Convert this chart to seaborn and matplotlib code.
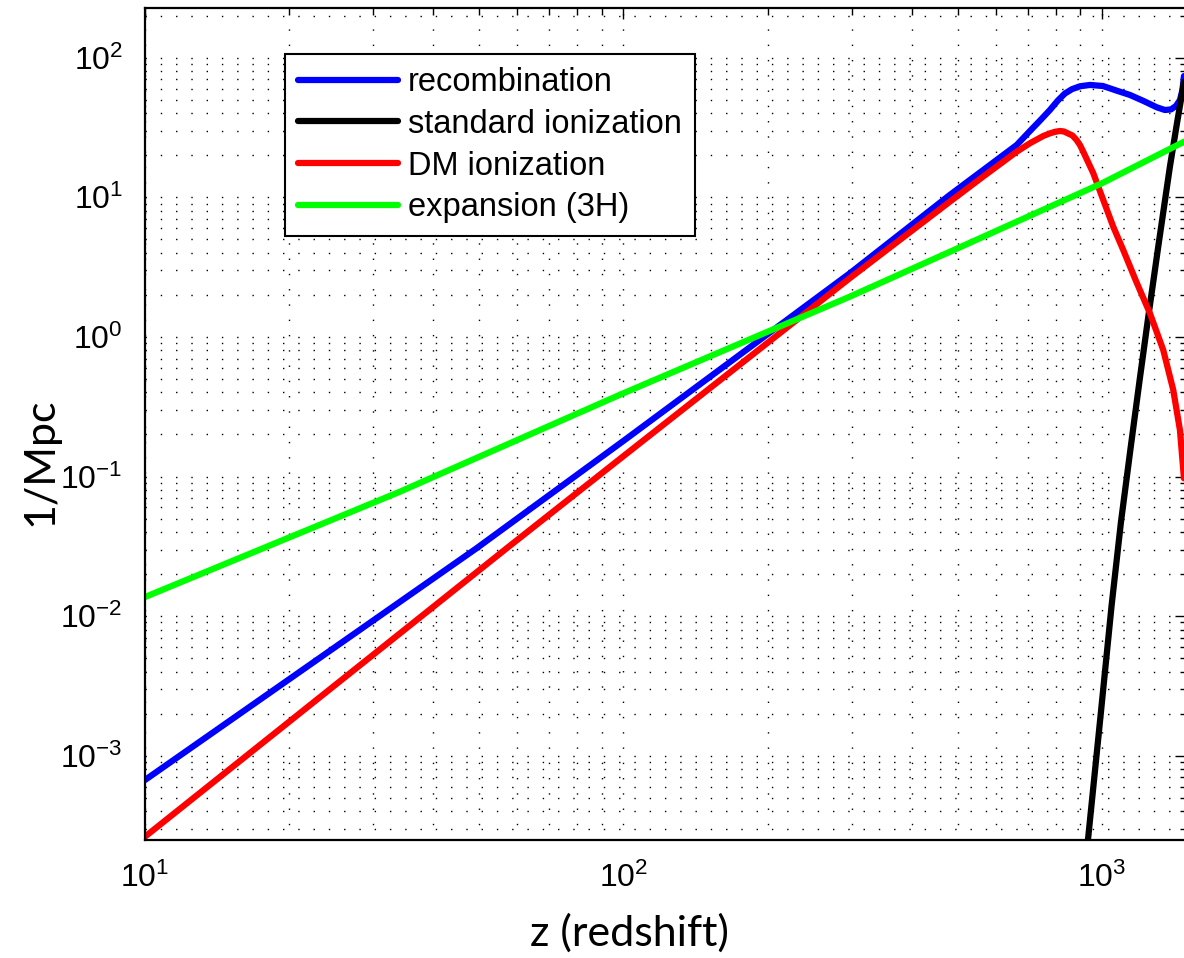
import matplotlib
matplotlib.use("Agg")
import matplotlib.pyplot as plt
import seaborn as sns
import pandas as pd
from matplotlib.ticker import LogLocator, LogFormatterSciNotation, NullFormatter

# ---- data (z = redshift, rates in 1/Mpc) ----
z_rec = [10, 49.3, 100, 297, 481, 565, 663.5, 707.2, 741.9, 778.4, 809.0,
         836.8, 865.6, 899.5, 943.9, 1004.8, 1074.8, 1144.1, 1218.1, 1302.6,
         1354, 1394, 1428, 1455.6, 1473.1, 1484]
rec = [6.7e-4, 0.0306, 0.18, 2.85, 10.4, 15.7, 23.7, 29.85, 35.4, 42.2, 49.4,
       55.4, 59.5, 62.4, 63.8, 62.7, 58.0, 54.1, 49.2, 44.1,
       42.2, 42.6, 45.1, 49.8, 58.7, 73.9]

z_ion = [917.6, 934.9, 995.2, 1047.8, 1095.8, 1150, 1200.5, 1250, 1315.5,
         1387, 1434, 1484]
ion = [1.29e-4, 2.49e-4, 2.06e-3, 0.0120, 0.0472, 0.168, 0.508, 1.40, 4.79,
       16.6, 33.5, 67.0]

z_dm = [10, 57, 100, 297, 481, 565, 663.5, 707.2, 754.1, 778.4, 797.6, 817.0,
        833.0, 867.8, 885.3, 899.5, 914.0, 959.0, 1006.3, 1055.8, 1107.9,
        1180.6, 1259.8, 1343, 1409.3, 1455.5, 1484]
dm = [2.63e-4, 0.0306, 0.14, 2.63, 9.3, 14.1, 21.2, 24.4, 27.5, 28.7, 29.45,
      29.85, 29.6, 27.7, 25.7, 23.7, 21.2, 14.9, 9.57, 6.16, 4.19,
      2.47, 1.476, 0.806, 0.417, 0.215, 0.097]

z_exp = [10, 34.1, 100, 297, 481, 1000, 1484]
exp3h = [0.0137, 0.0778, 0.395, 1.94, 4.07, 12.6, 25.0]

labels = ["recombination", "standard ionization", "DM ionization", "expansion (3H)"]
colors = ["#0000ff", "#000000", "#ff0000", "#00ff00"]

# ---- style ----
sns.set_style("white")
plt.rcParams['font.family'] = ['Liberation Sans', 'DejaVu Sans']
plt.rcParams['mathtext.fontset'] = 'custom'
plt.rcParams['mathtext.rm'] = 'Liberation Sans'
plt.rcParams['mathtext.it'] = 'Liberation Sans:italic'
plt.rcParams['mathtext.bf'] = 'Liberation Sans:bold'
plt.rcParams['mathtext.default'] = 'regular'
plt.rcParams['text.color'] = 'black'
plt.rcParams['axes.labelcolor'] = 'black'
plt.rcParams['xtick.color'] = 'black'
plt.rcParams['ytick.color'] = 'black'

W, H = 1184, 958
fig = plt.figure(figsize=(W / 100, H / 100), dpi=100)
ax = fig.add_axes([145 / W, 1 - 840 / H, 1041.2 / W, 832 / H])

series = [(z_rec, rec), (z_ion, ion), (z_dm, dm), (z_exp, exp3h)]
for (zz, vv), lab, col in zip(series, labels, colors):
    df = pd.DataFrame({"z": zz, "rate": vv})
    sns.lineplot(data=df, x="z", y="rate", ax=ax, color=col, linewidth=4.5,
                 label=lab, sort=False, estimator=None)

ax.set_xscale("log")
ax.set_yscale("log")
ax.set_xlim(10, 1500)
ax.set_ylim(2.49e-4, 227)

ax.xaxis.set_major_locator(LogLocator(base=10))
ax.yaxis.set_major_locator(LogLocator(base=10))
ax.xaxis.set_minor_locator(LogLocator(base=10, subs=range(2, 10)))
ax.yaxis.set_minor_locator(LogLocator(base=10, subs=range(2, 10)))
ax.xaxis.set_major_formatter(LogFormatterSciNotation())
ax.yaxis.set_major_formatter(LogFormatterSciNotation())
ax.xaxis.set_minor_formatter(NullFormatter())
ax.yaxis.set_minor_formatter(NullFormatter())

ax.grid(True, which="both", color="black", linestyle=(0, (1, 10)), linewidth=1.0)
ax.set_axisbelow(True)

ax.tick_params(which="both", direction="in", top=True, right=True, width=1.0,
               color="black", labelcolor="black")
ax.tick_params(which="major", length=8, labelsize=23, pad=16)
ax.tick_params(which="minor", length=4)
ax.tick_params(axis="y", which="major", pad=16)
for s in ax.spines.values():
    s.set_color("black")
    s.set_linewidth(1.6)

ax.set_xlabel("z (redshift)", fontsize=31, family=["Lato", "DejaVu Sans"],
              color="black")
ax.set_ylabel("1/Mpc", fontsize=31, family=["Lato", "DejaVu Sans"],
              color="black")
ax.xaxis.set_label_coords(0.465, -0.088)
ax.yaxis.set_label_coords(-0.082, 0.455)

leg = ax.legend(loc="upper left", bbox_to_anchor=(0.1345, 0.9447),
                borderaxespad=0, frameon=True, fancybox=False,
                edgecolor="black", framealpha=1, fontsize=23.5,
                handlelength=3.05, handletextpad=0.31, borderpad=0.4,
                labelspacing=0.33, labelcolor="black")
leg.get_frame().set_linewidth(1.5)

fig.savefig("out.png", dpi=100)
